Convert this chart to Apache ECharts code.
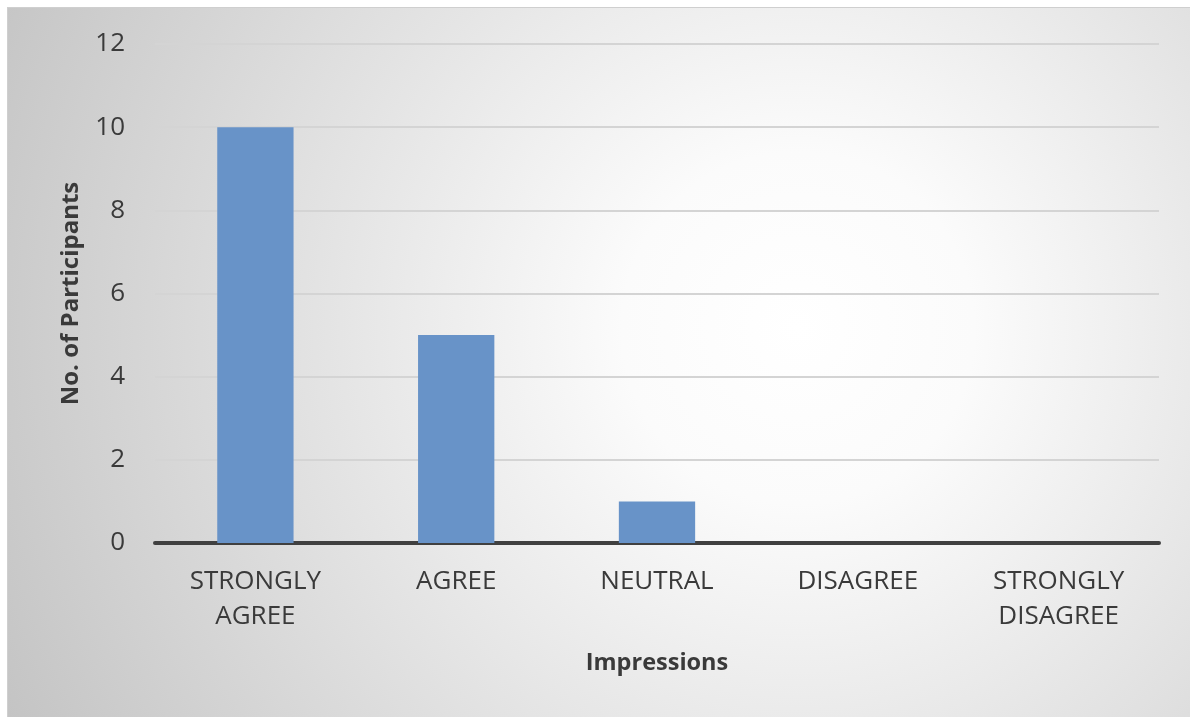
<!DOCTYPE html>
<html>
<head>
<meta charset="utf-8">
<script src="https://cdn.jsdelivr.net/npm/echarts@6/dist/echarts.min.js"></script>
<style>
  html, body { margin: 0; padding: 0; background: #fff; }
  #chart {
    position: absolute; left: 7px; top: 7px;
    width: 1183px; height: 710px;
    border-left: 1px solid #cfcfcf; border-top: 1px solid #cfcfcf;
  }
</style>
</head>
<body>
<div id="chart"></div>
<script>
// survey responses
const categories = ['STRONGLY\nAGREE', 'AGREE', 'NEUTRAL', 'DISAGREE', 'STRONGLY\nDISAGREE'];
const participants = [10, 5, 1, 0, 0];
const yTicks = [0, 2, 4, 6, 8, 10, 12];

const chart = echarts.init(document.getElementById('chart'));

chart.setOption({
  backgroundColor: {
    type: 'radial', x: 790, y: 320, r: 880, global: true,
    colorStops: [
      { offset: 0, color: '#ffffff' },
      { offset: 0.2, color: '#fbfbfb' },
      { offset: 1, color: '#c4c4c4' }
    ]
  },
  textStyle: { fontFamily: 'Open Sans' },
  grid: { left: 147, right: 32, top: 36, bottom: 175 },
  xAxis: {
    type: 'category',
    data: categories,
    name: 'Impressions',
    nameLocation: 'middle',
    nameGap: 108,
    nameTextStyle: { fontSize: 23.5, fontWeight: 'bold', color: '#3a3a3a' },
    axisLine: { lineStyle: { color: '#404040', width: 4 } },
    axisTick: { show: false },
    axisLabel: { fontSize: 26, color: '#3a3a3a', margin: 21, lineHeight: 35 }
  },
  yAxis: {
    type: 'value',
    min: yTicks[0],
    max: yTicks[yTicks.length - 1],
    interval: 2,
    name: 'No. of Participants',
    nameLocation: 'middle',
    nameGap: 72,
    nameTextStyle: { fontSize: 24, fontWeight: 'bold', color: '#3a3a3a' },
    axisLine: { show: false },
    axisTick: { show: false },
    splitLine: { lineStyle: { color: '#d4d4d4', width: 2 } },
    axisLabel: { fontSize: 26, color: '#3a3a3a', margin: 30 }
  },
  series: [{
    type: 'bar',
    data: participants,
    barWidth: '38%',
    itemStyle: { color: '#6893c8' }
  }]
});
</script>
</body>
</html>
